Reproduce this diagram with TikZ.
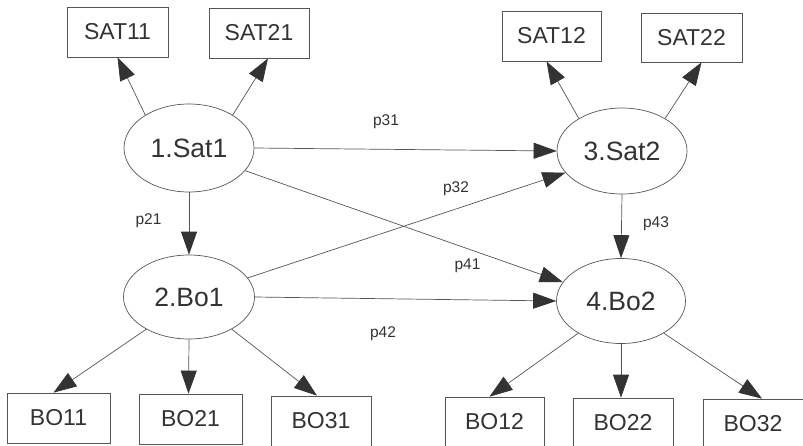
\documentclass[tikz,border=0pt]{standalone}
\usepackage{fontspec}
\setmainfont{Liberation Sans}
\usetikzlibrary{arrows.meta,shapes.geometric}
\definecolor{ink}{HTML}{333333}
\definecolor{linec}{HTML}{555555}
\begin{document}
\begin{tikzpicture}[x=1pt,y=-1pt,
  box/.style={draw=linec,line width=0.7pt,minimum width=101pt,minimum height=50pt,inner sep=0pt,text=ink,font=\fontsize{23}{26}\selectfont},
  latent/.style={ellipse,draw=linec,line width=0.7pt,minimum width=130pt,minimum height=86pt,inner sep=0pt,text=ink,font=\fontsize{26.5}{30}\selectfont},
  lbl/.style={inner sep=0pt,text=ink,font=\fontsize{15.5}{18}\selectfont},
  conn/.style={draw=linec,line width=0.7pt,-{Triangle[length=23pt,width=16pt,color=ink]}}]
\clip (0,0) rectangle (803,445);
\fill[white] (0,0) rectangle (803,445);
% latent variables
\node[latent,minimum height=88pt] (s1) at (189,148) {1.Sat1};
\node[latent] (s2) at (622,151) {3.Sat2};
\node[latent,minimum width=131pt,minimum height=84pt] (b1) at (189,297) {2.Bo1};
\node[latent,minimum width=129pt,minimum height=85pt] (b2) at (621,301) {4.Bo2};
% indicators
\node[box] (sat11) at (117.5,32) {SAT11};
\node[box,minimum width=100pt] (sat21) at (259,33) {SAT21};
\node[box,minimum width=99pt] (sat12) at (551.5,36) {SAT12};
\node[box,minimum height=49pt] (sat22) at (691.5,37.5) {SAT22};
\node[box,minimum width=103pt] (bo11) at (58.5,418) {BO11};
\node[box,minimum width=103pt] (bo21) at (190.5,419) {BO21};
\node[box,minimum width=100pt] (bo31) at (321,421) {BO31};
\node[box,minimum width=99pt] (bo12) at (494.5,422) {BO12};
\node[box,minimum width=100pt] (bo22) at (623,423) {BO22};
\node[box,minimum width=100pt] (bo32) at (753,424) {BO32};
% measurement arrows
\draw[conn] (s1.143) -- (sat11.south);
\draw[conn] (s1.37) -- ([xshift=9pt]sat21.south);
\draw[conn] (s2.143) -- ([xshift=-5pt]sat12.south);
\draw[conn] (s2.37) -- ([xshift=10pt]sat22.south);
\draw[conn] (b1.217) -- ([xshift=-5pt]bo11.north);
\draw[conn] (b1.south) -- ([xshift=-2pt]bo21.north);
\draw[conn] (b1.323) -- ([xshift=-4pt]bo31.north);
\draw[conn] (b2.217) -- ([xshift=-5pt]bo12.north);
\draw[conn] (b2.south) -- ([xshift=-2pt]bo22.north);
\draw[conn] (b2.323) -- ([xshift=9pt]bo32.north);
% structural paths
\draw[conn] (s1.east) -- (s2.west);
\draw[conn] (s1.south) -- (b1.north);
\draw[conn] (s1.-22) -- (b2.162);
\draw[conn] (b1.18) -- (s2.201);
\draw[conn] (b1.east) -- (b2.west);
\draw[conn] (s2.south) -- (b2.north);
% path labels
\node[lbl] (p31) at (386,122) {p31};
\node[lbl] (p21) at (148.5,221) {p21};
\node[lbl] (p32) at (456,189) {p32};
\node[lbl] (p43) at (656,224) {p43};
\node[lbl] (p41) at (467.5,266) {p41};
\node[lbl] (p42) at (383,334) {p42};
\end{tikzpicture}
\end{document}
